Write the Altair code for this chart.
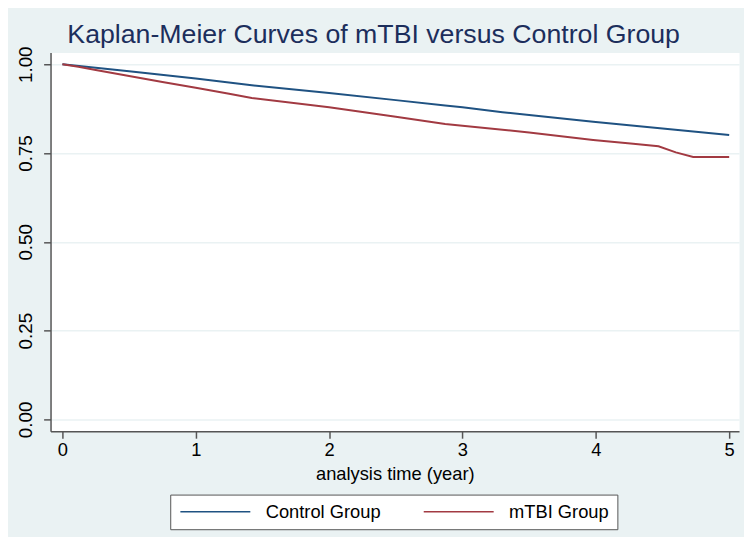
import altair as alt
import pandas as pd

# ---- data ----
control_t = [0.0, 0.5, 1.0, 1.42, 2.0, 2.5, 2.87, 3.0, 3.3, 3.5, 3.98, 4.5, 5.0]
control_s = [1.000, 0.980, 0.960, 0.941, 0.919, 0.899, 0.884, 0.879, 0.865, 0.857, 0.838, 0.819, 0.801]

mtbi_t = [0.0, 0.12, 0.25, 0.5, 0.75, 1.0, 1.25, 1.42, 2.0, 2.5, 2.87, 3.0, 3.5, 3.98, 4.28, 4.47, 4.6, 4.73, 5.0]
mtbi_s = [1.000, 0.993, 0.984, 0.967, 0.950, 0.934, 0.917, 0.905, 0.879, 0.852, 0.832, 0.827, 0.808, 0.787, 0.776, 0.769, 0.752, 0.739, 0.739]

groups = ["Control Group", "mTBI Group"]
colors = ["#1f5282", "#a23a42"]
x_ticks = [0, 1, 2, 3, 4, 5]
y_ticks = [0.0, 0.25, 0.5, 0.75, 1.0]

df = pd.concat([
    pd.DataFrame({"t": control_t, "s": control_s, "group": groups[0]}),
    pd.DataFrame({"t": mtbi_t, "s": mtbi_s, "group": groups[1]}),
])

FONT = "Liberation Sans"

chart = alt.Chart(df).mark_line(strokeWidth=2, clip=True).encode(
    x=alt.X("t:Q",
            scale=alt.Scale(domain=[-0.089, 5.074], nice=False, zero=False),
            axis=alt.Axis(values=x_ticks, format="d", title="analysis time (year)",
                          grid=False, tickSize=7, labelPadding=2, titlePadding=6,
                          labelFontSize=18.5, titleFontSize=18.5, titleFontWeight="normal")),
    y=alt.Y("s:Q",
            scale=alt.Scale(domain=[-0.0334, 1.0334], nice=False, zero=False),
            axis=alt.Axis(values=y_ticks, format=".2f", title=None,
                          grid=True, gridColor="#eaf2f3", gridWidth=1.5,
                          tickSize=7, labelAngle=270, labelAlign="center",
                          labelBaseline="bottom", labelPadding=8, labelFontSize=19)),
    color=alt.Color("group:N", title=None,
                    scale=alt.Scale(domain=groups, range=colors),
                    legend=alt.Legend(orient="none", legendX=121, legendY=447,
                                      direction="horizontal", symbolType="M-1,0H9.1",
                                      symbolSize=196, symbolStrokeWidth=1.5,
                                      labelFontSize=18.5, labelOffset=70, columnPadding=40,
                                      padding=8, strokeColor="#555555", fillColor="white",
                                      labelLimit=300, labelColor="black", labelFont=FONT)),
).properties(
    width=696, height=383,
    autosize=alt.AutoSizeParams(type="none"),
    padding={"left": 43, "top": 42, "right": 5, "bottom": 104},
    background="#eaf2f3",
    title=alt.TitleParams("Kaplan-Meier Curves of mTBI versus Control Group",
                          anchor="start", frame="group", dx=17, dy=30, offset=6,
                          baseline="alphabetic",
                          fontSize=27, font=FONT, fontWeight="normal", color="#1c2e5c"),
).configure_view(
    fill="white", stroke="transparent"
).configure_axis(
    domainColor="#555555", tickColor="#555555", domainWidth=1.5, tickWidth=1.5,
    labelColor="black", titleColor="black", labelFont=FONT, titleFont=FONT,
)

chart.save("out.html", embed_options={"renderer": "svg", "actions": False})
